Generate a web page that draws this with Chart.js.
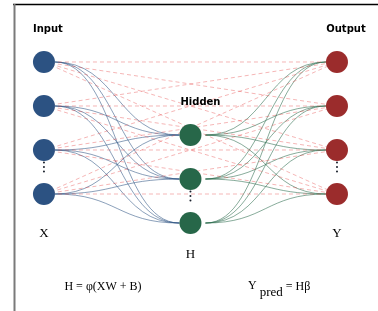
<!DOCTYPE html>
<html>
<head>
<meta charset="utf-8">
<script src="https://cdn.jsdelivr.net/npm/chart.js@4.4.1/dist/chart.umd.min.js"></script>
<style>
  body { margin: 0; background: #fff; }
  #wrap { width: 378px; height: 311px; }
</style>
</head>
<body>
<div id="wrap"><canvas id="net"></canvas></div>
<script>
// layers: x position of each layer, y rows of the nodes in each layer
const layerX = [0, 1, 2];
const inputY = [0, 1, 2, 3];
const hiddenY = [1.66, 2.66, 3.66];
const outputY = [0, 1, 2, 3];
const layerNames = ['Input', 'Hidden', 'Output'];
const layerSymbols = ['X', 'H', 'Y'];
const gapAfter = [2, 1, 2]; // the "⋮" sits between node gapAfter and the next one
const formulaHidden = 'H = φ(XW + B)';
const formulaOutput = ['Y', 'pred', ' = Hβ'];

const nodeColors = ['#2c5282', '#276749', '#9b2c2c'];
const layersY = [inputY, hiddenY, outputY];

function points(x, ys) {
  return ys.map(function(y) { return {x: x, y: y}; });
}

var datasets = [];
layersY.forEach(function(ys, l) {
  datasets.push({
    data: points(layerX[l], ys),
    pointRadius: 11,
    pointHoverRadius: 11,
    pointBackgroundColor: nodeColors[l],
    pointBorderWidth: 0,
    order: 0
  });
});

// dashed input -> output links
inputY.forEach(function(a) {
  outputY.forEach(function(b) {
    datasets.push({
      data: [{x: layerX[0], y: a}, {x: layerX[2], y: b}],
      showLine: true,
      pointRadius: 0,
      borderColor: 'rgba(229, 62, 62, 0.38)',
      borderWidth: 1,
      borderDash: [4, 3],
      order: 1
    });
  });
});

const frame = {
  id: 'frame',
  beforeDatasetsDraw(chart) {
    const ctx = chart.ctx;
    ctx.save();
    ctx.strokeStyle = '#000';
    ctx.lineWidth = 1.5;
    ctx.beginPath();
    ctx.moveTo(13, 4.5);
    ctx.lineTo(chart.width, 4.5);
    ctx.stroke();
    ctx.strokeStyle = '#7a7a7a';
    ctx.lineWidth = 2;
    ctx.beginPath();
    ctx.moveTo(14.5, 4);
    ctx.lineTo(14.5, chart.height);
    ctx.stroke();
    ctx.restore();
  }
};

// smooth S-shaped links between neighbouring layers
const curves = {
  id: 'curves',
  beforeDatasetsDraw(chart) {
    const ctx = chart.ctx, xs = chart.scales.x, ys = chart.scales.y;
    function link(x0, y0, x1, y1, off0, off1) {
      const ax = xs.getPixelForValue(x0) + off0, ay = ys.getPixelForValue(y0);
      const bx = xs.getPixelForValue(x1) - off1, by = ys.getPixelForValue(y1);
      const mx = (ax + bx) / 2;
      ctx.beginPath();
      ctx.moveTo(ax, ay);
      ctx.bezierCurveTo(mx, ay, mx, by, bx, by);
      ctx.stroke();
    }
    ctx.save();
    ctx.lineWidth = 1;
    ctx.strokeStyle = 'rgba(44, 82, 130, 0.55)';
    inputY.forEach(function(a) {
      hiddenY.forEach(function(b) { link(layerX[0], a, layerX[1], b, 11, 11); });
    });
    ctx.strokeStyle = 'rgba(39, 103, 73, 0.55)';
    hiddenY.forEach(function(a) {
      outputY.forEach(function(b) { link(layerX[1], a, layerX[2], b, 15, 11); });
    });
    ctx.restore();
  }
};

const labels = {
  id: 'labels',
  afterDatasetsDraw(chart) {
    const ctx = chart.ctx, xs = chart.scales.x, ys = chart.scales.y;
    ctx.save();
    ctx.textAlign = 'center';
    ctx.textBaseline = 'middle';

    // vertical ellipsis
    ctx.fillStyle = '#1a202c';
    layersY.forEach(function(rows, l) {
      const i = gapAfter[l];
      const cx = xs.getPixelForValue(layerX[l]);
      const cy = (ys.getPixelForValue(rows[i]) + ys.getPixelForValue(rows[i + 1])) / 2 - 5;
      [-4.5, 0, 4.5].forEach(function(d) {
        ctx.beginPath();
        ctx.arc(cx, cy + d, 1, 0, Math.PI * 2);
        ctx.fill();
      });
    });

    // layer names
    ctx.fillStyle = '#000';
    ctx.font = 'bold 10px "DejaVu Sans", sans-serif';
    ctx.fillText(layerNames[0], xs.getPixelForValue(layerX[0]) + 4, 29);
    ctx.fillText(layerNames[1], xs.getPixelForValue(layerX[1]) + 10, 102);
    ctx.fillText(layerNames[2], xs.getPixelForValue(layerX[2]) + 9, 29);

    // symbols under each layer
    ctx.font = '13px "Liberation Serif", serif';
    layersY.forEach(function(rows, l) {
      const bottom = ys.getPixelForValue(rows[rows.length - 1]);
      ctx.fillText(layerSymbols[l], xs.getPixelForValue(layerX[l]), bottom + 40 - (l === 1 ? 8 : 0));
    });

    // formulas
    ctx.font = '12px "Liberation Serif", serif';
    ctx.textBaseline = 'alphabetic';
    ctx.fillText(formulaHidden, 103, 290);
    ctx.textAlign = 'left';
    var x = 248;
    ctx.fillText(formulaOutput[0], x, 289);
    x += ctx.measureText(formulaOutput[0]).width + 3;
    ctx.font = '13px "Liberation Serif", serif';
    ctx.fillText(formulaOutput[1], x, 296);
    x += ctx.measureText(formulaOutput[1]).width;
    ctx.font = '12px "Liberation Serif", serif';
    ctx.fillText(formulaOutput[2], x, 290);
    ctx.restore();
  }
};

new Chart(document.getElementById('net').getContext('2d'), {
  type: 'scatter',
  data: {datasets: datasets},
  options: {
    responsive: true,
    maintainAspectRatio: false,
    animation: false,
    layout: {padding: 0, autoPadding: false},
    clip: false,
    events: [],
    plugins: {legend: {display: false}, tooltip: {enabled: false}},
    scales: {
      x: {display: false, min: -0.3, max: 2.28},
      y: {display: false, reverse: true, min: -1.409, max: 5.659}
    }
  },
  plugins: [frame, curves, labels]
});
</script>
</body>
</html>
